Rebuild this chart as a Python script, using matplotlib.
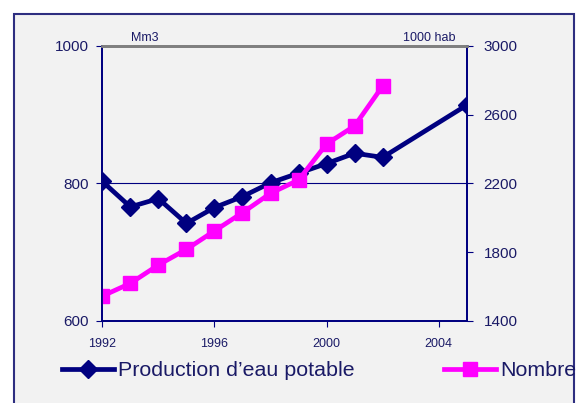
import matplotlib
matplotlib.use("Agg")
import matplotlib.pyplot as plt
from matplotlib.patches import Rectangle

plt.rcParams['font.family'] = ['Liberation Sans', 'DejaVu Sans']

# data
years_prod = [1992, 1993, 1994, 1995, 1996, 1997, 1998, 1999, 2000, 2001, 2002, 2005]
production = [803, 766, 778, 742, 765, 781, 801, 815, 829, 844, 838, 914]  # Mm3
years_nb = [1992, 1993, 1994, 1995, 1996, 1997, 1998, 1999, 2000, 2001, 2002]
nombre = [1545, 1619, 1726, 1817, 1924, 2030, 2143, 2220, 2430, 2535, 2767]  # 1000 hab

navy = '#000080'
textc = '#1a1a66'
pink = '#FF00FF'

fig = plt.figure(figsize=(5.79, 4.03), dpi=100)
fig.patch.set_facecolor('white')
# chart frame
fig.patches.append(Rectangle((0.0242, -0.1), 0.9672, 1.0653, transform=fig.transFigure,
                             facecolor='#F2F2F2', edgecolor='#2E2E80', linewidth=1.5, zorder=-5))

ax = fig.add_axes([0.1767, 0.2035, 0.6294, 0.6824])
ax.set_facecolor('none')
ax2 = ax.twinx()

l1, = ax.plot(years_prod, production, color=navy, lw=3.4, marker='D', markersize=9,
              label='Production d\u2019eau potable')
l2, = ax2.plot(years_nb, nombre, color=pink, lw=3.4, marker='s', markersize=10,
               label='Nombre')

ax.set_xlim(1992, 2005)
ax.set_ylim(600, 1000)
ax2.set_ylim(1400, 3000)
ax.set_xticks([1992, 1996, 2000, 2004])
ax.set_yticks([600, 800, 1000])
ax2.set_yticks([1400, 1800, 2200, 2600, 3000])

ax.grid(axis='y', color=navy, lw=0.8)
ax.tick_params(axis='y', colors=navy, labelcolor=textc, labelsize=11, length=4, pad=6)
ax.tick_params(axis='x', colors=navy, labelcolor=textc, labelsize=9, length=4, pad=8)
ax2.tick_params(axis='y', colors=navy, labelcolor=textc, labelsize=11, length=4, pad=8)

for a in (ax, ax2):
    for s in ('left', 'right', 'bottom'):
        a.spines[s].set_color(navy)
        a.spines[s].set_linewidth(1.3)
    a.spines['top'].set_color('#808080')
    a.spines['top'].set_linewidth(2)

ax.text(0.079, 1.008, 'Mm3', transform=ax.transAxes, fontsize=9, color=textc,
        ha='left', va='bottom')
ax.text(0.968, 1.008, '1000 hab', transform=ax.transAxes, fontsize=9, color=textc,
        ha='right', va='bottom')

fig.legend(handles=[l1, l2], loc='center left', bbox_to_anchor=(0.089, 0.08),
           ncol=2, frameon=False, fontsize=15.4, labelcolor=textc,
           handlelength=2.4, handletextpad=0.2, columnspacing=4.2, borderpad=0)

fig.savefig('out.png', dpi=100)
